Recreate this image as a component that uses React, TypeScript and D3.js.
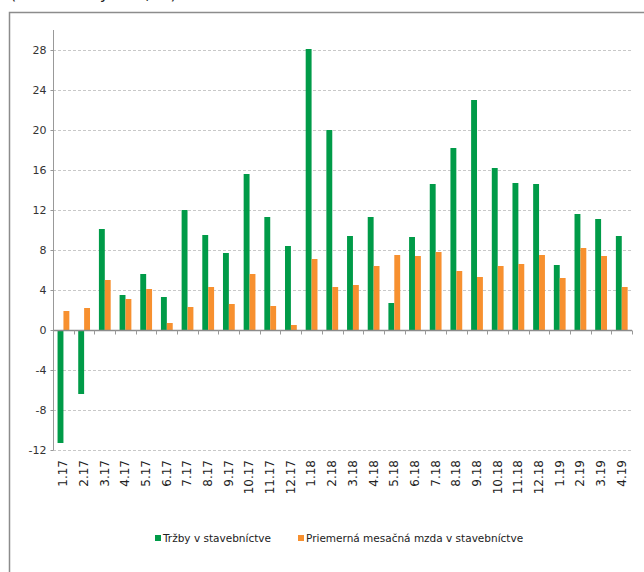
import { useEffect, useRef } from 'react';
import * as d3 from 'd3';

// months on the x axis
const months = [
  '1.17', '2.17', '3.17', '4.17', '5.17', '6.17', '7.17', '8.17', '9.17', '10.17', '11.17', '12.17',
  '1.18', '2.18', '3.18', '4.18', '5.18', '6.18', '7.18', '8.18', '9.18', '10.18', '11.18', '12.18',
  '1.19', '2.19', '3.19', '4.19',
];

// Tržby v stavebníctve (y/y, %)
const trzby = [
  -11.3, -6.4, 10.1, 3.5, 5.6, 3.3, 12.0, 9.5, 7.7, 15.6, 11.3, 8.4,
  28.1, 20.0, 9.4, 11.3, 2.7, 9.3, 14.6, 18.2, 23.0, 16.2, 14.7, 14.6,
  6.5, 11.6, 11.1, 9.4,
];

// Priemerná mesačná mzda v stavebníctve (y/y, %)
const mzda = [
  1.9, 2.2, 5.0, 3.1, 4.1, 0.7, 2.3, 4.3, 2.6, 5.6, 2.4, 0.5,
  7.1, 4.3, 4.5, 6.4, 7.5, 7.4, 7.8, 5.9, 5.3, 6.4, 6.6, 7.5,
  5.2, 8.2, 7.4, 4.3,
];

const yTicks = [-12, -8, -4, 0, 4, 8, 12, 16, 20, 24, 28];
const seriesNames = ['Tržby v stavebníctve', 'Priemerná mesačná mzda v stavebníctve'];
const colors = ['#009b48', '#f7902f'];

const W = 644;
const H = 572;
const FONT = '"DejaVu Sans", Verdana, sans-serif';

export default function App() {
  const svgRef = useRef<SVGSVGElement>(null);

  useEffect(() => {
    if (!svgRef.current) return;
    const svg = d3.select(svgRef.current);
    svg.selectAll('*').remove();

    // frame + title (cut off by the top edge, as in the source)
    svg.append('rect')
      .attr('x', 9.5).attr('y', 12.5)
      .attr('width', 700).attr('height', 700)
      .attr('fill', 'none').attr('stroke', '#8c8c8c').attr('stroke-width', 1.5);

    svg.append('text')
      .attr('x', 10).attr('y', -1)
      .style('font-family', FONT).style('font-size', '16px').style('fill', '#222')
      .text('(medziročný rast, %)');

    const x0 = d3.scaleBand<string>().domain(months).range([53, 632]).padding(0);
    const x1 = d3.scaleBand<string>()
      .domain(['g', 'o'])
      .range([x0.step() * 0.22, x0.step() * 0.79])
      .padding(0);
    const y = d3.scaleLinear().domain([-12, 30]).range([450, 30]);

    const g = svg.append('g');

    // gridlines
    g.selectAll('.grid')
      .data(yTicks.filter(t => t !== 0))
      .join('line')
      .attr('x1', 53).attr('x2', 632)
      .attr('y1', d => Math.round(y(d)) + 0.5).attr('y2', d => Math.round(y(d)) + 0.5)
      .attr('stroke', '#c8c8c8').attr('stroke-dasharray', '3,2');

    // bars
    const groups = g.selectAll('.grp')
      .data(months)
      .join('g')
      .attr('transform', d => `translate(${x0(d)},0)`);

    groups.append('rect')
      .attr('x', x1('g')!)
      .attr('width', x1.bandwidth())
      .attr('y', (_, i) => y(Math.max(0, trzby[i])))
      .attr('height', (_, i) => Math.abs(y(trzby[i]) - y(0)))
      .attr('fill', colors[0]);

    groups.append('rect')
      .attr('x', x1('o')!)
      .attr('width', x1.bandwidth())
      .attr('y', (_, i) => y(Math.max(0, mzda[i])))
      .attr('height', (_, i) => Math.abs(y(mzda[i]) - y(0)))
      .attr('fill', colors[1]);

    // y axis (plain hyphen for negatives)
    const yAxis = d3.axisLeft(y)
      .tickValues(yTicks)
      .tickFormat(d => String(d))
      .tickSize(3)
      .tickPadding(4);
    const ya = g.append('g').attr('transform', 'translate(53.5,0)').call(yAxis);
    ya.select('.domain').attr('stroke', '#999').attr('d', `M0,${y(30)}V${y(-12)}`);
    ya.selectAll('.tick line').attr('stroke', '#999');
    ya.selectAll('text')
      .style('font-family', FONT).style('font-size', '11px').style('fill', '#333');

    // zero line with ticks between months
    const zy = Math.round(y(0)) + 0.5;
    g.append('line')
      .attr('x1', 53).attr('x2', 632).attr('y1', zy).attr('y2', zy)
      .attr('stroke', '#8c8c8c').attr('stroke-width', 1.5);
    const bounds = [...months.map(m => x0(m)!), 632];
    g.selectAll('.xt')
      .data(bounds)
      .join('line')
      .attr('x1', d => Math.round(d) + 0.5).attr('x2', d => Math.round(d) + 0.5)
      .attr('y1', zy).attr('y2', zy + 4)
      .attr('stroke', '#999');

    // month labels
    g.selectAll('.xl')
      .data(months)
      .join('text')
      .attr('transform', d => `translate(${x0(d)! + x0.bandwidth() / 2 + 4},460) rotate(-90)`)
      .attr('text-anchor', 'end')
      .style('font-family', FONT).style('font-size', '12px').style('fill', '#222')
      .text(d => d);

    // legend
    const legendX = [155, 298];
    const lg = svg.append('g');
    seriesNames.forEach((name, i) => {
      lg.append('rect')
        .attr('x', legendX[i]).attr('y', 535)
        .attr('width', 6).attr('height', 6)
        .attr('fill', colors[i]);
      lg.append('text')
        .attr('x', legendX[i] + 8).attr('y', 542)
        .style('font-family', FONT).style('font-size', '10.5px').style('fill', '#222')
        .text(name);
    });
  }, []);

  return (
    <div style={{ position: 'absolute', left: 0, top: 0 }}>
      <svg ref={svgRef} width={W} height={H} style={{ display: 'block', background: '#fff' }} />
    </div>
  );
}
